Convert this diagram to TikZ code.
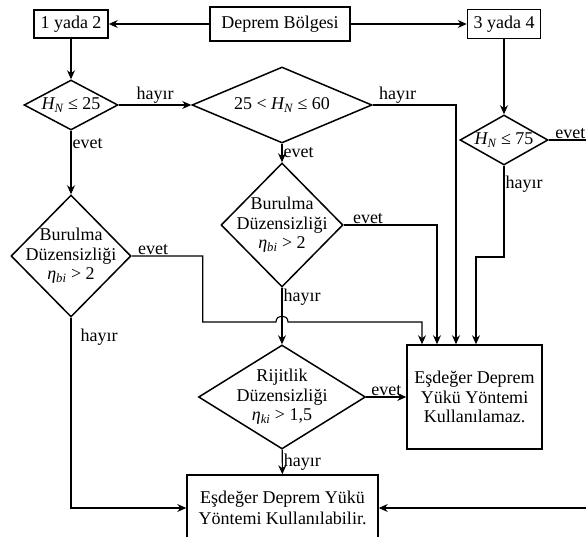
\documentclass[tikz,border=0pt]{standalone}
\usepackage{fontspec}
\setmainfont{Liberation Serif}
\usetikzlibrary{shapes.geometric, arrows, arrows.meta}
\usetikzlibrary{positioning}
\tikzstyle{box} = [rectangle, draw=black, line width=1.5pt, inner sep=2pt, align=center]
\tikzstyle{dia} = [diamond, draw=black, line width=1.5pt, inner sep=0pt]
\tikzstyle{arrow} = [line width=1.1pt,->,>={Stealth[length=9pt, width=8pt]}]
\tikzstyle{lbl} = [inner sep=1pt]

\begin{document}
\begin{tikzpicture}[x=1pt, y=-1pt, font=\fontsize{18}{19.5}\selectfont]
\useasboundingbox (0,0) rectangle (586,537);
\clip (0,0) rectangle (586,537);
\node [box, minimum width=140, minimum height=34] (zone) at (280,24) {Deprem Bölgesi};
\node [box, minimum width=74, minimum height=28] (left) at (71,24) {1 yada 2};
\node [box, minimum width=73, minimum height=29] (right) at (504,24) {3 yada 4};
\node [dia, minimum width=94, minimum height=50, label={center:{\textit{H\textsubscript{N}} ≤ 25}}] (cond25) at (71,105) {};
\node [dia, minimum width=180, minimum height=76, label={center:{25 < \textit{H\textsubscript{N}} ≤ 60}}] (cond60) at (282,105) {};
\node [dia, minimum width=88, minimum height=50, label={center:{\textit{H\textsubscript{N}} ≤ 75}}] (cond75) at (504,140) {};
\node [dia, minimum width=120, minimum height=122, label={[align=center]center:{Burulma\\Düzensizliği\\\textit{η\textsubscript{bi}} > 2}}] (tors1) at (71,256) {};
\node [dia, minimum width=122, minimum height=124, label={[align=center]center:{Burulma\\Düzensizliği\\\textit{η\textsubscript{bi}} > 2}}] (tors2) at (282,225) {};
\node [dia, minimum width=167, minimum height=104, label={[align=center]center:{Rijitlik\\Düzensizliği\\\textit{η\textsubscript{ki}} > 1,5}}] (stiff) at (282,397) {};
\node [box, minimum width=135, minimum height=104] (no) at (474.5,397) {Eşdeğer Deprem\\Yükü Yöntemi\\Kullanılamaz.};
\node [box, minimum width=191, minimum height=66, font=\fontsize{18}{21}\selectfont] (yes) at (282.5,508) {Eşdeğer Deprem Yükü\\Yöntemi Kullanılabilir.};

\draw [arrow] (zone) -- (left);
\draw [arrow] (zone) -- (right);
\draw [arrow] (left) -- (cond25);
\draw [arrow] (right) -- (cond75);
\draw [arrow] (cond25) -- node[lbl, above] {hayır} (cond60);
\draw [arrow] (cond25) -- node[lbl, right, pos=0.2] {evet} (tors1);
\draw [arrow] (cond60) -- node[lbl, right] {evet} (tors2);
\draw [arrow] (cond60.east) -| node[lbl, above, pos=0.15] {hayır} ([xshift=-18.5pt]no.north);
\draw [arrow] (tors2.east) -| node[lbl, above, pos=0.13] {evet} ([xshift=-37.5pt]no.north);
\draw [arrow] (tors1.east) -- node[lbl, above, pos=0.3] {evet} ++(71,0) |- (276,322) .. controls (276,314) and (288,314) .. (288,322) -| ([xshift=-52.5pt]no.north);
\draw [arrow] (cond75.south) -- node[lbl, right, pos=0.2] {hayır} (504,257) -| ([xshift=1.5pt]no.north);
\draw [arrow] (cond75.east) -- node[lbl, above] {evet} (592,140) |- (yes.east);
\draw [arrow] (tors2) -- node[lbl, anchor=north west, pos=0] {hayır} (stiff);
\draw [arrow] (stiff) -- node[lbl, above] {evet} (no);
\draw [arrow] (stiff) -- node[lbl, right] {hayır} (yes);
\draw [arrow] (tors1.south) |- node[lbl, right, pos=0.05, xshift=8pt] {hayır} (yes.west);
\end{tikzpicture}
\end{document}
